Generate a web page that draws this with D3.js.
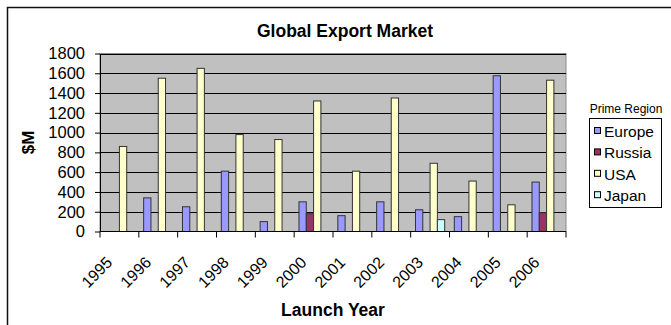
<!DOCTYPE html>
<html>
<head>
<meta charset="utf-8">
<script src="https://cdn.jsdelivr.net/npm/d3@7"></script>
<style>
  body { margin: 0; background: #fff; }
  svg { display: block; font-family: "Liberation Sans", Arial, sans-serif; }
</style>
</head>
<body>
<script>
// Chart size
const width = 671;
const height = 325;
const plot = { left: 100, top: 53.5, right: 566, bottom: 231.5 };

// Data
const years = ["1995", "1996", "1997", "1998", "1999", "2000", "2001", "2002", "2003", "2004", "2005", "2006"];
const regions = ["Europe", "Russia", "USA", "Japan"];
const europe = [null, 340, 250, 610, 100, 300, 160, 300, 220, 150, 1575, 500];
const russia = [null, null, null, null, null, 180, null, null, null, null, null, 190];
const usa = [860, 1550, 1650, 980, 930, 1320, 610, 1350, 690, 510, 270, 1530];
const japan = [null, null, null, null, null, null, null, null, 120, null, null, null];
const yTicks = [0, 200, 400, 600, 800, 1000, 1200, 1400, 1600, 1800];
const colors = ["#9999FF", "#993366", "#FFFFCC", "#CCFFFF"];

const seriesValues = [europe, russia, usa, japan];
const bars = [];
years.forEach((yr, i) => {
  regions.forEach((r, j) => {
    if (seriesValues[j][i] != null) bars.push({ year: yr, region: r, value: seriesValues[j][i] });
  });
});

const svg = d3.select("body").append("svg")
  .attr("width", width)
  .attr("height", height);

// Outer chart frame (only left and top edges are visible)
svg.append("rect")
  .attr("x", 7.5).attr("y", 7.5)
  .attr("width", 700).attr("height", 400)
  .attr("fill", "none")
  .attr("stroke", "#111")
  .attr("stroke-width", 1.5);

// Scales
const x = d3.scaleBand()
  .domain(years)
  .range([plot.left, plot.right]);

const x1 = d3.scaleBand()
  .domain(regions)
  .range([0, x.bandwidth()])
  .paddingOuter(0.66);

const y = d3.scaleLinear()
  .domain([0, 1800])
  .range([plot.bottom, plot.top]);

const color = d3.scaleOrdinal().domain(regions).range(colors);

// Plot area
svg.append("rect")
  .attr("x", plot.left).attr("y", plot.top)
  .attr("width", plot.right - plot.left)
  .attr("height", plot.bottom - plot.top)
  .attr("fill", "#C0C0C0")
  .attr("stroke", "#8a8a8a");

// Gridlines
svg.append("g")
  .selectAll("line")
  .data(yTicks.filter(d => d > 0))
  .join("line")
  .attr("x1", plot.left).attr("x2", plot.right)
  .attr("y1", d => Math.round(y(d)) + 0.5)
  .attr("y2", d => Math.round(y(d)) + 0.5)
  .attr("stroke", "#000");

// Bars
svg.append("g")
  .selectAll("rect")
  .data(bars)
  .join("rect")
  .attr("x", d => x(d.year) + x1(d.region))
  .attr("y", d => y(d.value))
  .attr("width", x1.bandwidth())
  .attr("height", d => y(0) - y(d.value))
  .attr("fill", d => color(d.region))
  .attr("stroke", "#333")
  .attr("stroke-width", 1);

// Y axis
svg.append("g")
  .attr("transform", `translate(${plot.left},0)`)
  .call(d3.axisLeft(y).tickValues(yTicks).tickFormat(d3.format("d")).tickSize(5).tickPadding(10).tickSizeOuter(0))
  .call(g => g.selectAll("text").attr("font-size", 16.5).attr("fill", "#000").attr("font-family", null))
  .call(g => g.selectAll("line, path").attr("stroke", "#000"));

// X axis (ticks on category boundaries)
const xAxis = svg.append("g")
  .attr("transform", `translate(0,${plot.bottom})`);

xAxis.append("line")
  .attr("x1", plot.left).attr("x2", plot.right)
  .attr("stroke", "#000");

xAxis.selectAll(".tick")
  .data(years.concat([null]))
  .join("line")
  .attr("class", "tick")
  .attr("x1", (d, i) => i < years.length ? x(d) : plot.right)
  .attr("x2", (d, i) => i < years.length ? x(d) : plot.right)
  .attr("y1", 0).attr("y2", 6)
  .attr("stroke", "#000");

xAxis.selectAll(".label")
  .data(years)
  .join("text")
  .attr("class", "label")
  .attr("text-anchor", "end")
  .attr("font-size", 16)
  .attr("transform", d => `translate(${x(d) + x.bandwidth() / 2 - 6},32) rotate(-45)`)
  .text(d => d);

// Titles
svg.append("text")
  .attr("x", 345).attr("y", 37)
  .attr("text-anchor", "middle")
  .attr("font-size", 17.5).attr("font-weight", "bold")
  .text("Global Export Market");

svg.append("text")
  .attr("x", (plot.left + plot.right) / 2).attr("y", 316)
  .attr("text-anchor", "middle")
  .attr("font-size", 17.5).attr("font-weight", "bold")
  .text("Launch Year");

svg.append("text")
  .attr("transform", `translate(34,${(plot.top + plot.bottom) / 2}) rotate(-90)`)
  .attr("text-anchor", "middle")
  .attr("font-size", 17).attr("font-weight", "bold")
  .text("$M");

// Legend
const legend = svg.append("g");
legend.append("text")
  .attr("x", 626).attr("y", 113)
  .attr("text-anchor", "middle")
  .attr("font-size", 12)
  .text("Prime Region");

legend.append("rect")
  .attr("x", 589.5).attr("y", 118.5)
  .attr("width", 72).attr("height", 89)
  .attr("fill", "#fff")
  .attr("stroke", "#000");

const item = legend.selectAll(".item")
  .data(regions)
  .join("g")
  .attr("class", "item")
  .attr("transform", (d, i) => `translate(594,${137 + i * 21.4})`);

item.append("rect")
  .attr("x", 0.5).attr("y", -9.5)
  .attr("width", 6).attr("height", 6)
  .attr("fill", d => color(d))
  .attr("stroke", "#000");

item.append("text")
  .attr("x", 10)
  .attr("font-size", 15.5)
  .text(d => d);
</script>
</body>
</html>
